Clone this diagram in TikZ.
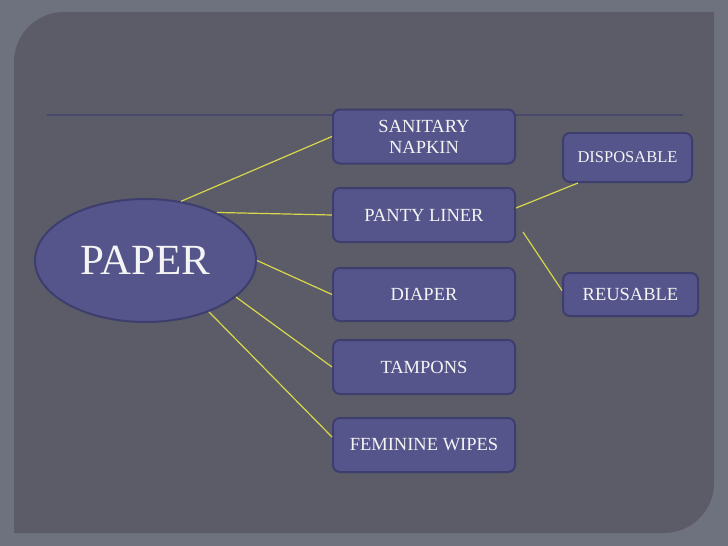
\documentclass[tikz,border=0pt]{standalone}
\usepackage{fontspec}
\setmainfont{Liberation Serif}
\usetikzlibrary{shapes.geometric,calc}
\definecolor{outerbg}{HTML}{6E717E}
\definecolor{panelbg}{HTML}{5B5C67}
\definecolor{rulecol}{HTML}{46486C}
\definecolor{boxfill}{HTML}{55558C}
\definecolor{boxedge}{HTML}{3E3E6E}
\definecolor{linkcol}{HTML}{D8D84C}
\definecolor{txtcol}{HTML}{F4F4F4}
\tikzset{
  itembox/.style={draw=boxedge, line width=2pt, fill=boxfill, rounded corners=7pt,
    text=txtcol, font=\fontsize{18.5}{21}\selectfont, align=center, inner sep=0pt,
    minimum width=182pt, minimum height=54pt},
  rootnode/.style={ellipse, draw=boxedge, line width=2pt, fill=boxfill, text=txtcol,
    font=\fontsize{43}{48}\selectfont, inner sep=0pt, minimum width=221pt, minimum height=123pt},
  link/.style={draw=linkcol, line width=1.2pt}
}
\begin{document}
\begin{tikzpicture}[x=1pt,y=-1pt]
\useasboundingbox (0,0) rectangle (728,546);
\fill[outerbg] (0,0) rectangle (728,546);
\fill[panelbg] (14,533) -- (14,62) .. controls (14,34.4) and (36.4,12) .. (64,12) -- (714,12)
  -- (714,483) .. controls (714,510.6) and (691.6,533) .. (664,533) -- cycle;
\draw[rulecol, line width=2pt] (47,115) -- (683,115);

\node[rootnode] (paper) at (145.5,260.5) {PAPER};
\node[itembox] (san) at (424,136.5) {SANITARY\\NAPKIN};
\node[itembox] (pan) at (424,215) {PANTY LINER};
\node[itembox, minimum height=53pt] (dia) at (424,294.5) {DIAPER};
\node[itembox] (tam) at (424,367) {TAMPONS};
\node[itembox] (fem) at (424,445) {FEMININE WIPES};
\node[itembox, minimum width=129pt, minimum height=49pt, font=\fontsize{16.5}{19}\selectfont] (dis) at (627.5,157.5) {DISPOSABLE};
\node[itembox, minimum width=135pt, minimum height=43pt] (reu) at (630.5,294.5) {REUSABLE};

\draw[link] (paper.59) -- (san.west);
\draw[link] (paper.34) -- (pan.west);
\draw[link] (paper.east) -- (dia.west);
\draw[link] (paper.-22) -- (tam.west);
\draw[link] (paper.-39) -- ($(fem.west)+(0,-8)$);
\draw[link] ($(pan.east)+(0,-7)$) -- ($(dis.south west)+(16,0)$);
\draw[link] ($(pan.south east)+(7,-11)$) -- ($(reu.west)+(0,-4)$);
\end{tikzpicture}
\end{document}
